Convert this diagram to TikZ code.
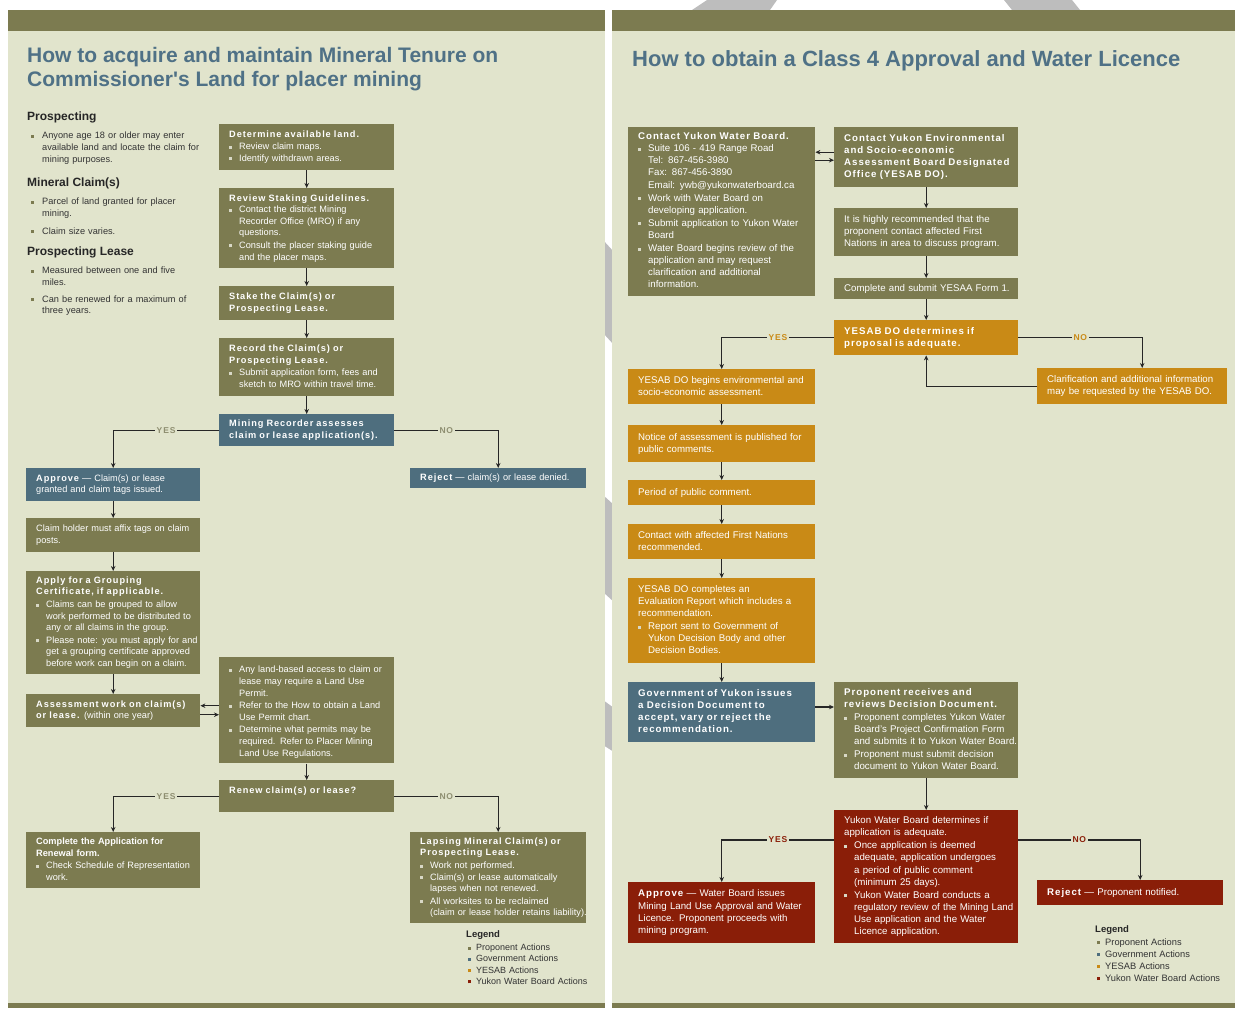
\documentclass[tikz,border=0pt]{standalone}
\usepackage{fontspec}
\setmainfont{Liberation Sans}
\newfontfamily\boxhead[LetterSpace=10]{Liberation Sans}
\usetikzlibrary{arrows.meta}

\definecolor{tenure}{HTML}{7C7B50}   % proponent actions, bands
\definecolor{govt}{HTML}{4E6E7E}     % government actions
\definecolor{yesab}{HTML}{C98A16}    % YESAB actions
\definecolor{ywb}{HTML}{8A1E08}      % water board actions
\definecolor{panel}{HTML}{E1E4CC}
\definecolor{titleblue}{HTML}{4F7186}
\definecolor{wmark}{HTML}{BDBDBD}
\definecolor{bulc}{HTML}{D8D8C6}
\definecolor{yesnoc}{HTML}{8E8E70}

\setlength{\parindent}{0pt}

% lines that never wrap
\newcommand{\plines}[1]{\begin{tabular}[t]{@{}l@{}}#1\end{tabular}}
\newcommand{\hdf}{\boxhead\bfseries}
\newcommand{\hd}[1]{{\hdf\plines{#1}}}
% bullets: in boxes, beside the chart, in the legend
\newcommand{\bx}[1]{\par\makebox[10pt][l]{\textcolor{bulc}{\rule[1pt]{3pt}{3pt}}}\plines{#1}}
\newcommand{\sbx}[1]{\par\hspace*{4pt}\makebox[11pt][l]{\textcolor{tenure}{\rule[1pt]{3pt}{3pt}}}\plines{#1}}
\newcommand{\lgd}[2]{\par\hspace*{2pt}\makebox[8pt][l]{\textcolor{#1}{\rule[1pt]{3pt}{3pt}}}#2}

\tikzset{
  stepbox/.style={anchor=north west, inner xsep=10pt, inner ysep=4pt, text=white,
    font=\fontsize{9.2}{11.6}\selectfont},
  rightpanel/.style={font=\fontsize{9.7}{12.1}\selectfont},
  tenurebox/.style={stepbox, fill=tenure},
  govbox/.style={stepbox, fill=govt},
  yesabbox/.style={stepbox, fill=yesab},
  ywbbox/.style={stepbox, fill=ywb},
  flow/.style={->, draw=black!85, line width=1.1pt},
  yesno/.style={fill=panel, inner sep=1.5pt, text=yesnoc, font=\fontsize{8.5}{10}\selectfont\hdf},
  sidehead/.style={anchor=west, inner sep=0pt, text=black!85, font=\fontsize{12}{14}\selectfont\bfseries},
  sidetext/.style={anchor=north west, inner sep=0pt, text width=190pt, text=black!80,
    font=\fontsize{9.2}{11.6}\selectfont},
  paneltitle/.style={anchor=west, inner sep=0pt, align=left, text=titleblue,
    font=\fontsize{21}{24}\selectfont\bfseries},
}

\begin{document}
\begin{tikzpicture}[x=1pt, y=-1pt, >={Stealth[length=5pt,width=4.5pt]}]
\useasboundingbox (0,0) rectangle (1235,1010);
\fill[white] (0,0) rectangle (1235,1010);

% watermark showing between the panels
\fill[wmark] (692,10) -- (707,0) -- (777,0) -- (770,10) -- cycle;
\fill[wmark] (1004,0) -- (1072,0) -- (1080,10) -- (1012,10) -- cycle;
\fill[wmark] (603,240) -- (614,252) -- (614,345) -- (603,333) -- cycle;
\fill[wmark] (603,495) -- (614,505) -- (614,602) -- (603,592) -- cycle;
\fill[wmark] (603,700) -- (614,708) -- (614,752) -- (603,745) -- cycle;

% the two panels
\foreach \l/\r in {8/605,612/1235} {
  \fill[panel] (\l,10) rectangle (\r,1008);
  \fill[tenure] (\l,10) rectangle (\r,31);
  \fill[tenure] (\l,1003) rectangle (\r,1008);
}

%%%%% left panel
\node[paneltitle] (lefttitle) at (27,69) {How to acquire and maintain Mineral Tenure on\\Commissioner\textquotesingle s Land for placer mining};

\node[sidehead] (prosphd) at (27,117) {Prospecting};
\node[sidetext] (prosptx) at (27,127) {\sbx{Anyone age 18 or older may enter\\available land and locate the claim for\\mining purposes.}};
\node[sidehead] (claimhd) at (27,183) {Mineral Claim(s)};
\node[sidetext] (claimtx) at (27,193) {\sbx{Parcel of land granted for placer\\mining.}\par\vspace{5pt}\sbx{Claim size varies.}};
\node[sidehead] (leasehd) at (27,252) {Prospecting Lease};
\node[sidetext] (leasetx) at (27,262) {\sbx{Measured between one and five\\miles.}\par\vspace{4pt}\sbx{Can be renewed for a maximum of\\three years.}};

\node[tenurebox, text width=155pt, minimum height=46pt] (detland) at (219,124)
  {\hd{Determine available land.}\bx{Review claim maps.}\bx{Identify withdrawn areas.}};
\node[tenurebox, text width=155pt, minimum height=80pt] (staking) at (219,188)
  {\hd{Review Staking Guidelines.}\bx{Contact the district Mining\\Recorder Office (MRO) if any\\questions.}\bx{Consult the placer staking guide\\and the placer maps.}};
\node[tenurebox, text width=155pt, minimum height=34pt] (stake) at (219,286)
  {\hd{Stake the Claim(s) or\\Prospecting Lease.}};
\node[tenurebox, text width=155pt, minimum height=58pt] (record) at (219,338)
  {\hd{Record the Claim(s) or\\Prospecting Lease.}\bx{Submit application form, fees and\\sketch to MRO within travel time.}};
\node[govbox, text width=155pt, minimum height=32pt] (recorder) at (219,414)
  {\hd{Mining Recorder assesses\\claim or lease application(s).}};
\node[govbox, text width=154pt, minimum height=33pt] (approve) at (26,468)
  {\plines{{\hdf Approve} — Claim(s) or lease\\granted and claim tags issued.}};
\node[govbox, text width=156pt, minimum height=20pt] (reject) at (410,468)
  {\plines{{\hdf Reject} — claim(s) or lease denied.}};
\node[tenurebox, text width=154pt, minimum height=34pt] (tags) at (26,518)
  {\plines{Claim holder must affix tags on claim\\posts.}};
\node[tenurebox, text width=154pt, minimum height=101pt] (grouping) at (26,571)
  {\hd{Apply for a Grouping\\Certificate, if applicable.}\bx{Claims can be grouped to allow\\work performed to be distributed to\\any or all claims in the group.}\bx{Please note: you must apply for and\\get a grouping certificate approved\\before work can begin on a claim.}};
\node[tenurebox, text width=154pt, minimum height=33pt] (asswork) at (26,694)
  {\plines{\hdf Assessment work on claim(s)\\{\hdf or lease.} (within one year)}};
\node[tenurebox, text width=155pt, minimum height=103pt] (landuse) at (219,657)
  {\bx{Any land-based access to claim or\\lease may require a Land Use\\Permit.}\bx{Refer to the How to obtain a Land\\Use Permit chart.}\bx{Determine what permits may be\\required. Refer to Placer Mining\\Land Use Regulations.}};
\node[tenurebox, text width=155pt, minimum height=32pt] (renew) at (219,780)
  {\hd{Renew claim(s) or lease?}\par\vspace*{11pt}};
\node[tenurebox, text width=154pt, minimum height=56pt] (complete) at (26,832)
  {\plines{\bfseries Complete the Application for\\\bfseries Renewal form.}\bx{Check Schedule of Representation\\work.}};
\node[tenurebox, text width=156pt, minimum height=89pt] (lapsing) at (410,832)
  {\hd{Lapsing Mineral Claim(s) or\\Prospecting Lease.}\bx{Work not performed.}\bx{Claim(s) or lease automatically\\lapses when not renewed.}\bx{All worksites to be reclaimed\\(claim or lease holder retains liability).}};

\node[sidehead, font=\fontsize{9.5}{11}\selectfont\bfseries] (lgdlhd) at (466,935) {Legend};
\node[sidetext, text width=140pt, font=\fontsize{9}{11.3}\selectfont] (lgdl) at (466,939)
  {\lgd{tenure}{Proponent Actions}\lgd{govt}{Government Actions}\lgd{yesab}{YESAB Actions}\lgd{ywb}{Yukon Water Board Actions}};

\foreach \a/\b in {detland/staking, staking/stake, stake/record, record/recorder,
                   approve/tags, tags/grouping, grouping/asswork, landuse/renew}
  \draw[flow] (\a) -- (\b);
\draw[flow] (recorder.west) -| node[yesno, pos=0.25] {YES} (approve.north);
\draw[flow] (recorder.east) -| node[yesno, pos=0.25] {NO} (reject.north);
\draw[flow] (renew.west) -| node[yesno, pos=0.25] {YES} (complete.north);
\draw[flow] (renew.east) -| node[yesno, pos=0.25] {NO} (lapsing.north);
\coordinate (awl) at ([yshift=5pt]asswork.east);
\coordinate (awr) at ([yshift=-4pt]asswork.east);
\draw[flow] (awl -| landuse.west) -- (awl);
\draw[flow] (awr) -- (awr -| landuse.west);

%%%%% right panel
\node[paneltitle, font=\fontsize{22}{25}\selectfont\bfseries] (righttitle) at (632,61) {How to obtain a Class 4 Approval and Water Licence};

\node[tenurebox, rightpanel, text width=167pt, minimum height=168pt] (ywb) at (628,127)
  {\hd{Contact Yukon Water Board.}\bx{Suite 106 - 419 Range Road\\Tel: 867-456-3980\\Fax: 867-456-3890\\Email: ywb@yukonwaterboard.ca}\bx{Work with Water Board on\\developing application.}\bx{Submit application to Yukon Water\\Board}\bx{Water Board begins review of the\\application and may request\\clarification and additional\\information.}};
\node[tenurebox, rightpanel, text width=164pt, minimum height=60pt] (yesab) at (834,127)
  {\hd{Contact Yukon Environmental\\and Socio-economic\\Assessment Board Designated\\Office (YESAB DO).}};
\node[tenurebox, rightpanel, text width=164pt, minimum height=48pt] (firstnat) at (834,208)
  {\plines{It is highly recommended that the\\proponent contact affected First\\Nations in area to discuss program.}};
\node[tenurebox, rightpanel, text width=164pt, minimum height=21pt] (form1) at (834,278)
  {\plines{Complete and submit YESAA Form 1.}};
\node[yesabbox, rightpanel, text width=164pt, minimum height=35pt] (adequate) at (834,320)
  {\hd{YESAB DO determines if\\proposal is adequate.}};
\node[yesabbox, rightpanel, text width=167pt, minimum height=35pt] (begins) at (628,369)
  {\plines{YESAB DO begins environmental and\\socio-economic assessment.}};
\node[yesabbox, rightpanel, text width=170pt, minimum height=36pt] (clarif) at (1037,368)
  {\plines{Clarification and additional information\\may be requested by the YESAB DO.}};
\node[yesabbox, rightpanel, text width=167pt, minimum height=37pt] (notice) at (628,425)
  {\plines{Notice of assessment is published for\\public comments.}};
\node[yesabbox, rightpanel, text width=167pt, minimum height=25pt] (period) at (628,480)
  {\plines{Period of public comment.}};
\node[yesabbox, rightpanel, text width=167pt, minimum height=35pt] (contact) at (628,524)
  {\plines{Contact with affected First Nations\\recommended.}};
\node[yesabbox, rightpanel, text width=167pt, minimum height=85pt] (report) at (628,578)
  {\plines{YESAB DO completes an\\Evaluation Report which includes a\\recommendation.}\bx{Report sent to Government of\\Yukon Decision Body and other\\Decision Bodies.}};
\node[govbox, rightpanel, text width=167pt, minimum height=60pt] (decision) at (628,682)
  {\hd{Government of Yukon issues\\a Decision Document to\\accept, vary or reject the\\recommendation.}};
\node[tenurebox, rightpanel, text width=164pt, minimum height=96pt] (receives) at (834,682)
  {\hd{Proponent receives and\\reviews Decision Document.}\bx{Proponent completes Yukon Water\\Board's Project Confirmation Form\\and submits it to Yukon Water Board.}\bx{Proponent must submit decision\\document to Yukon Water Board.}};
\node[ywbbox, rightpanel, text width=164pt, minimum height=133pt] (ywbdet) at (834,810)
  {\plines{Yukon Water Board determines if\\application is adequate.}\bx{Once application is deemed\\adequate, application undergoes\\a period of public comment\\(minimum 25 days).}\bx{Yukon Water Board conducts a\\regulatory review of the Mining Land\\Use application and the Water\\Licence application.}};
\node[ywbbox, rightpanel, text width=167pt, minimum height=61pt] (approve2) at (628,882)
  {\plines{{\hdf Approve} — Water Board issues\\Mining Land Use Approval and Water\\Licence. Proponent proceeds with\\mining program.}};
\node[ywbbox, rightpanel, text width=166pt, minimum height=25pt] (reject2) at (1037,880)
  {\plines{{\hdf Reject} — Proponent notified.}};

\node[sidehead, font=\fontsize{9.5}{11}\selectfont\bfseries] (lgdrhd) at (1095,930) {Legend};
\node[sidetext, text width=140pt, font=\fontsize{9.3}{12}\selectfont] (lgdr) at (1095,933)
  {\lgd{tenure}{Proponent Actions}\lgd{govt}{Government Actions}\lgd{yesab}{YESAB Actions}\lgd{ywb}{Yukon Water Board Actions}};

\coordinate (yl) at ([yshift=5pt]yesab.west);
\coordinate (yr) at ([yshift=-3pt]yesab.west);
\draw[flow] (yl) -- (yl -| ywb.east);
\draw[flow] (yr -| ywb.east) -- (yr);
\foreach \a/\b in {yesab/firstnat, firstnat/form1, form1/adequate, begins/notice,
                   notice/period, period/contact, contact/report, report/decision, receives/ywbdet}
  \draw[flow] (\a) -- (\b);
\draw[flow] (adequate.west) -| node[yesno, text=yesab, pos=0.25] {YES} (begins.north);
\draw[flow] (adequate.east) -| node[yesno, text=yesab, pos=0.25] {NO} ([xshift=10pt]clarif.north);
\draw[flow] (clarif.west) -| (adequate.south);
\coordinate (dd) at ([yshift=-25pt]decision.north east);
\draw[flow] (dd) -- (dd -| receives.west);
\coordinate (wy) at ([yshift=-30pt]ywbdet.north west);
\coordinate (wn) at ([yshift=-30pt]ywbdet.north east);
\draw[flow] (wy) -| node[yesno, text=ywb, pos=0.25] {YES} (approve2.north);
\draw[flow] (wn) -| node[yesno, text=ywb, pos=0.25] {NO} ([xshift=10pt]reject2.north);
\end{tikzpicture}
\end{document}
